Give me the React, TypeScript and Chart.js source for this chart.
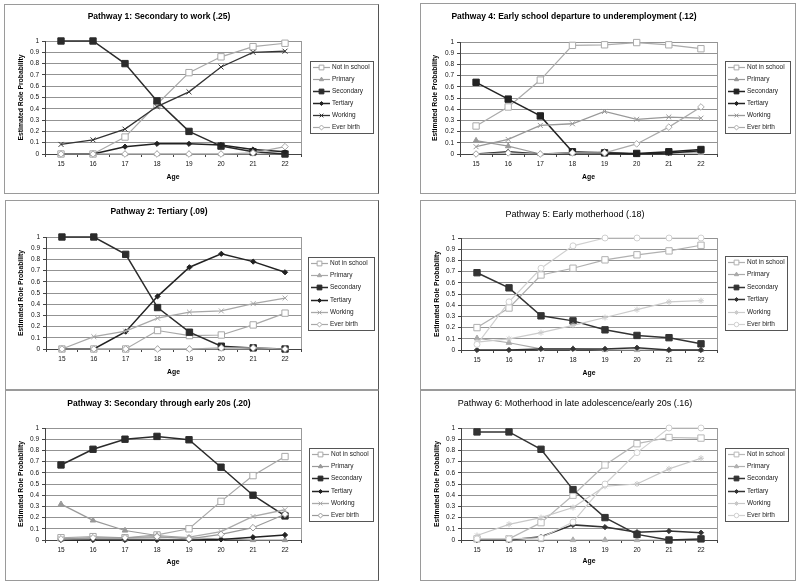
import React, { useEffect, useRef } from "react";
import { Chart, registerables } from "chart.js";
import { drawPoint } from "chart.js/helpers";

Chart.register(...registerables);

const FONT = "'Liberation Sans', Arial, Helvetica, sans-serif";

// ---------- data ----------
const AGES = ["15", "16", "17", "18", "19", "20", "21", "22"];
const SERIES = ["Not in school", "Primary", "Secondary", "Tertiary", "Working", "Ever birth"];
const Y_AXIS_TITLE = "Estimated Role Probability";
const X_AXIS_TITLE = "Age";

const TITLES = [
  "Pathway 1: Secondary to work (.25)",
  "Pathway 2: Tertiary (.09)",
  "Pathway 3: Secondary through early 20s (.20)",
  "Pathway 4: Early school departure to underemployment (.12)",
  "Pathway 5: Early motherhood (.18)",
  "Pathway 6: Motherhood in late adolescence/early 20s (.16)",
];

// Pathway 1
const P1_NOT_IN_SCHOOL = [0, 0, 0.15, 0.44, 0.72, 0.86, 0.95, 0.98];
const P1_PRIMARY = [0, 0, 0, 0, 0, 0, 0, 0];
const P1_SECONDARY = [1, 1, 0.8, 0.47, 0.2, 0.07, 0.02, 0];
const P1_TERTIARY = [0, 0, 0.065, 0.09, 0.09, 0.08, 0.04, 0.02];
const P1_WORKING = [0.085, 0.125, 0.22, 0.42, 0.55, 0.77, 0.9, 0.91];
const P1_EVER_BIRTH = [0, 0, 0, 0, 0, 0, 0.01, 0.065];

// Pathway 2
const P2_NOT_IN_SCHOOL = [0, 0, 0, 0.165, 0.12, 0.125, 0.215, 0.32];
const P2_PRIMARY = [0, 0, 0, 0, 0, 0, 0, 0];
const P2_SECONDARY = [1, 1, 0.845, 0.37, 0.15, 0.025, 0.01, 0];
const P2_TERTIARY = [0, 0, 0.155, 0.47, 0.73, 0.85, 0.78, 0.685];
const P2_WORKING = [0, 0.11, 0.16, 0.275, 0.33, 0.34, 0.405, 0.455];
const P2_EVER_BIRTH = [0, 0, 0, 0, 0, 0.01, 0.01, 0];

// Pathway 3
const P3_NOT_IN_SCHOOL = [0.02, 0.03, 0.02, 0.045, 0.1, 0.345, 0.575, 0.745];
const P3_PRIMARY = [0.32, 0.175, 0.085, 0.04, 0.02, 0.01, 0, 0];
const P3_SECONDARY = [0.67, 0.81, 0.9, 0.925, 0.895, 0.65, 0.4, 0.215];
const P3_TERTIARY = [0, 0, 0, 0, 0, 0.005, 0.025, 0.045];
const P3_WORKING = [0.01, 0.015, 0.015, 0.02, 0.025, 0.075, 0.21, 0.27];
const P3_EVER_BIRTH = [0.01, 0.02, 0.02, 0.03, 0.01, 0.05, 0.11, 0.23];

// Pathway 4
const P4_NOT_IN_SCHOOL = [0.25, 0.42, 0.66, 0.97, 0.975, 0.995, 0.975, 0.94];
const P4_PRIMARY = [0.12, 0.07, 0, 0.01, 0.02, 0, 0.01, 0.01];
const P4_SECONDARY = [0.64, 0.49, 0.34, 0.02, 0.01, 0.005, 0.02, 0.04];
const P4_TERTIARY = [0, 0.02, 0, 0.01, 0.01, 0, 0.01, 0.03];
const P4_WORKING = [0.065, 0.13, 0.255, 0.27, 0.38, 0.31, 0.33, 0.32];
const P4_EVER_BIRTH = [0, 0.01, 0, 0.01, 0.01, 0.09, 0.24, 0.42];

// Pathway 5
const P5_NOT_IN_SCHOOL = [0.2, 0.375, 0.67, 0.73, 0.805, 0.85, 0.885, 0.935];
const P5_PRIMARY = [0.105, 0.065, 0.01, 0.01, 0, 0, 0, 0];
const P5_SECONDARY = [0.69, 0.555, 0.305, 0.26, 0.18, 0.13, 0.11, 0.055];
const P5_TERTIARY = [0, 0, 0.01, 0.01, 0.01, 0.02, 0, 0];
const P5_WORKING = [0.07, 0.1, 0.155, 0.22, 0.29, 0.36, 0.43, 0.44];
const P5_EVER_BIRTH = [0.05, 0.43, 0.73, 0.93, 1, 1, 1, 1];

// Pathway 6
const P6_NOT_IN_SCHOOL = [0.01, 0.01, 0.155, 0.4, 0.67, 0.86, 0.915, 0.91];
const P6_PRIMARY = [0, 0, 0, 0, 0, 0, 0, 0];
const P6_SECONDARY = [0.965, 0.965, 0.81, 0.45, 0.2, 0.05, 0, 0.01];
const P6_TERTIARY = [0, 0, 0.03, 0.135, 0.115, 0.07, 0.08, 0.065];
const P6_WORKING = [0.04, 0.14, 0.2, 0.29, 0.48, 0.5, 0.635, 0.73];
const P6_EVER_BIRTH = [0.01, 0.01, 0.02, 0.16, 0.5, 0.78, 1, 1];

// ---------- layout / style ----------
type Panel = {
  title: string;
  titleBold: boolean;
  titleSize: number;
  box: [number, number, number, number]; // x, y, w, h (page px)
  area: [number, number, number, number]; // L, T, R, B (page px)
  titleY: number;
  ageY: number;
  yTitleX: number;
  legend: [number, number, number, number];
  colors: string[];
  soft: boolean;
  data: number[][];
};

const PANELS: Panel[] = [
  {
    title: TITLES[0], titleBold: true, titleSize: 8.5,
    box: [4, 4, 375, 190], area: [45, 41, 301, 154],
    titleY: 17, ageY: 177, yTitleX: 21, legend: [310, 61, 373, 133],
    colors: ["#a8a8a8", "#a0a0a0", "#2b2b2b", "#222222", "#333333", "#a8a8a8"], soft: false,
    data: [P1_NOT_IN_SCHOOL, P1_PRIMARY, P1_SECONDARY, P1_TERTIARY, P1_WORKING, P1_EVER_BIRTH],
  },
  {
    title: TITLES[1], titleBold: true, titleSize: 8.5,
    box: [5, 200, 374, 190], area: [46, 237, 301, 349],
    titleY: 212, ageY: 372, yTitleX: 21, legend: [308, 257, 374, 330],
    colors: ["#a8a8a8", "#a8a8a8", "#2b2b2b", "#222222", "#a8a8a8", "#a8a8a8"], soft: false,
    data: [P2_NOT_IN_SCHOOL, P2_PRIMARY, P2_SECONDARY, P2_TERTIARY, P2_WORKING, P2_EVER_BIRTH],
  },
  {
    title: TITLES[2], titleBold: true, titleSize: 8.5,
    box: [5, 390, 374, 191], area: [45, 428, 301, 540],
    titleY: 404, ageY: 562, yTitleX: 21, legend: [309, 448, 373, 521],
    colors: ["#a8a8a8", "#999999", "#2b2b2b", "#222222", "#aaaaaa", "#999999"], soft: false,
    data: [P3_NOT_IN_SCHOOL, P3_PRIMARY, P3_SECONDARY, P3_TERTIARY, P3_WORKING, P3_EVER_BIRTH],
  },
  {
    title: TITLES[3], titleBold: true, titleSize: 8.5,
    box: [420, 3, 376, 191], area: [460, 42, 717, 154],
    titleY: 17, ageY: 177, yTitleX: 435, legend: [725, 61, 790, 133],
    colors: ["#aaaaaa", "#999999", "#222222", "#222222", "#999999", "#aaaaaa"], soft: false,
    data: [P4_NOT_IN_SCHOOL, P4_PRIMARY, P4_SECONDARY, P4_TERTIARY, P4_WORKING, P4_EVER_BIRTH],
  },
  {
    title: TITLES[4], titleBold: false, titleSize: 9,
    box: [420, 200, 376, 190], area: [461, 238, 717, 350],
    titleY: 215, ageY: 373, yTitleX: 437, legend: [725, 256, 787, 330],
    colors: ["#b0b0b0", "#aaaaaa", "#333333", "#333333", "#cccccc", "#d0d0d0"], soft: true,
    data: [P5_NOT_IN_SCHOOL, P5_PRIMARY, P5_SECONDARY, P5_TERTIARY, P5_WORKING, P5_EVER_BIRTH],
  },
  {
    title: TITLES[5], titleBold: false, titleSize: 9,
    box: [420, 390, 376, 191], area: [461, 428, 717, 540],
    titleY: 404, ageY: 561, yTitleX: 437, legend: [725, 448, 788, 521],
    colors: ["#b8b8b8", "#b0b0b0", "#333333", "#333333", "#c8c8c8", "#d0d0d0"], soft: true,
    data: [P6_NOT_IN_SCHOOL, P6_PRIMARY, P6_SECONDARY, P6_TERTIARY, P6_WORKING, P6_EVER_BIRTH],
  },
];

const SMALL = 6.5;
const AXIS_TITLE = 6.8;

function seriesStyle(i: number, soft: boolean) {
  switch (i) {
    case 0: return { pointStyle: "rect", radius: 4.5, hollow: true, width: 1.2 };
    case 1: return { pointStyle: "triangle", radius: 3.2, hollow: false, width: 1.2 };
    case 2: return { pointStyle: "rect", radius: 4.5, hollow: false, width: 1.5 };
    case 3: return { pointStyle: "rectRot", radius: 2.6, hollow: false, width: 1.5 };
    case 4: return soft
      ? { pointStyle: "star", radius: 3, hollow: false, width: 1.2 }
      : { pointStyle: "crossRot", radius: 3.5, hollow: false, width: 1.3 };
    default: return soft
      ? { pointStyle: "circle", radius: 3, hollow: true, width: 1.2 }
      : { pointStyle: "rectRot", radius: 3.3, hollow: true, width: 1.2 };
  }
}

const boxLegend = {
  id: "boxLegend",
  afterDraw(chart: any, _args: any, opts: any) {
    if (!opts || opts.x1 === undefined) return;
    const { x1, y1, x2, y2 } = opts;
    const ctx = chart.ctx as CanvasRenderingContext2D;
    ctx.save();
    ctx.fillStyle = "#ffffff";
    ctx.fillRect(x1, y1, x2 - x1, y2 - y1);
    ctx.strokeStyle = "#555555";
    ctx.lineWidth = 1;
    ctx.strokeRect(x1 + 0.5, y1 + 0.5, x2 - x1, y2 - y1);
    const ds = chart.data.datasets;
    const step = (y2 - y1 - 12) / (ds.length - 1);
    ds.forEach((d: any, i: number) => {
      const cy = Math.round(y1 + 6 + i * step) + 0.5;
      ctx.strokeStyle = d.borderColor;
      ctx.lineWidth = d.borderWidth;
      ctx.beginPath();
      ctx.moveTo(x1 + 3, cy);
      ctx.lineTo(x1 + 20, cy);
      ctx.stroke();
      ctx.fillStyle = d.pointBackgroundColor;
      ctx.strokeStyle = d.pointBorderColor;
      ctx.lineWidth = 1;
      drawPoint(ctx, { pointStyle: d.pointStyle, rotation: 0, radius: d.pointRadius * 0.75, borderWidth: 1 } as any, x1 + 11.5, cy);
      ctx.fillStyle = "#222222";
      ctx.font = `${SMALL}px ${FONT}`;
      ctx.textBaseline = "middle";
      ctx.textAlign = "left";
      ctx.fillText(d.label, x1 + 22, cy);
    });
    ctx.restore();
  },
};

const plotFrame = {
  id: "plotFrame",
  beforeDatasetsDraw(chart: any) {
    const { top, right, bottom } = chart.chartArea;
    const ctx = chart.ctx as CanvasRenderingContext2D;
    ctx.save();
    ctx.strokeStyle = "#9a9a9a";
    ctx.lineWidth = 1;
    ctx.beginPath();
    ctx.moveTo(Math.round(right) + 0.5, top);
    ctx.lineTo(Math.round(right) + 0.5, bottom);
    ctx.stroke();
    ctx.restore();
  },
};

function PanelChart({ p }: { p: Panel }) {
  const ref = useRef<HTMLCanvasElement>(null);
  const [bx, by, bw, bh] = p.box;
  useEffect(() => {
    const [L, T, R, B] = p.area;
    const Lc = L - bx, Tc = T - by, Rc = R - bx, Bc = B - by;
    const tLH = p.titleSize * 1.2;
    const titlePadTop = p.titleY - by - tLH / 2;
    const titlePadBottom = Tc - (p.titleY - by) - tLH / 2;
    const yLH = AXIS_TITLE * 1.2;
    const xLH = AXIS_TITLE * 1.2;
    const padLeft = p.yTitleX - bx - yLH / 2;
    const yW = Lc - padLeft;
    const xH = p.ageY - B + xLH / 2;
    const padBottom = bh - Bc - xH;
    const padRight = bw - Rc;

    const datasets = SERIES.map((name, i) => {
      const st = seriesStyle(i, p.soft);
      const c = p.colors[i];
      return {
        label: name,
        data: p.data[i],
        borderColor: c,
        backgroundColor: c,
        borderWidth: st.width,
        pointStyle: st.pointStyle,
        pointRadius: st.radius,
        pointBackgroundColor: st.hollow ? "#ffffff" : c,
        pointBorderColor: c,
        pointBorderWidth: 1,
        tension: 0,
        fill: false,
        clip: false,
        order: SERIES.length - i,
      };
    });

    const chart = new Chart(ref.current!, {
      type: "line",
      data: { labels: AGES, datasets: datasets as any },
      plugins: [plotFrame, boxLegend],
      options: {
        responsive: false,
        animation: false,
        devicePixelRatio: 1,
        events: [],
        layout: { padding: { left: padLeft, top: 0, right: padRight, bottom: padBottom } },
        plugins: {
          legend: { display: false },
          tooltip: { enabled: false },
          title: {
            display: true,
            text: p.title,
            color: "#000000",
            font: { family: FONT, size: p.titleSize, weight: p.titleBold ? "bold" : "normal", lineHeight: 1.2 },
            padding: { top: titlePadTop, bottom: titlePadBottom },
          },
          boxLegend: { x1: p.legend[0] - bx, y1: p.legend[1] - by, x2: p.legend[2] - bx, y2: p.legend[3] - by },
        } as any,
        scales: {
          x: {
            type: "category",
            offset: true,
            grid: { offset: true, drawOnChartArea: false, drawTicks: true, tickLength: 3, color: "#444444", tickColor: "#444444" },
            border: { color: "#444444", width: 1 },
            ticks: { color: "#111111", font: { family: FONT, size: SMALL }, padding: 3, maxRotation: 0, autoSkip: false },
            title: { display: true, text: X_AXIS_TITLE, color: "#000000", font: { family: FONT, size: AXIS_TITLE, weight: "bold", lineHeight: 1.2 }, padding: 0 },
            afterFit: (s: any) => { s.height = xH; },
          },
          y: {
            type: "linear",
            min: 0,
            max: 1,
            grid: { color: "#939393", tickColor: "#444444", tickLength: 3, lineWidth: 1 },
            border: { color: "#444444", width: 1 },
            ticks: {
              stepSize: 0.1,
              color: "#111111",
              font: { family: FONT, size: SMALL },
              padding: 3,
              callback: (v: any) => String(Math.round(Number(v) * 10) / 10),
            },
            title: { display: true, text: Y_AXIS_TITLE, color: "#000000", font: { family: FONT, size: AXIS_TITLE, weight: "bold", lineHeight: 1.2 }, padding: 0 },
            afterFit: (s: any) => { s.width = yW; },
          },
        },
      } as any,
    });
    return () => chart.destroy();
  }, []);
  return (
    <canvas
      ref={ref}
      width={bw}
      height={bh}
      style={{ position: "absolute", left: bx, top: by, width: bw, height: bh, display: "block" }}
    />
  );
}

export default function App() {
  return (
    <div style={{ position: "absolute", left: 0, top: 0, width: 800, height: 584, background: "#ffffff" }}>
      {PANELS.map((p, i) => (
        <div
          key={"b" + i}
          style={{
            position: "absolute",
            left: p.box[0],
            top: p.box[1],
            width: p.box[2],
            height: p.box[3],
            boxSizing: "border-box",
            border: "1px solid #9a9a9a",
            borderRight: i < 3 ? "1px solid #555555" : "1px solid #9a9a9a",
          }}
        />
      ))}
      {PANELS.map((p, i) => (
        <PanelChart key={"c" + i} p={p} />
      ))}
    </div>
  );
}
